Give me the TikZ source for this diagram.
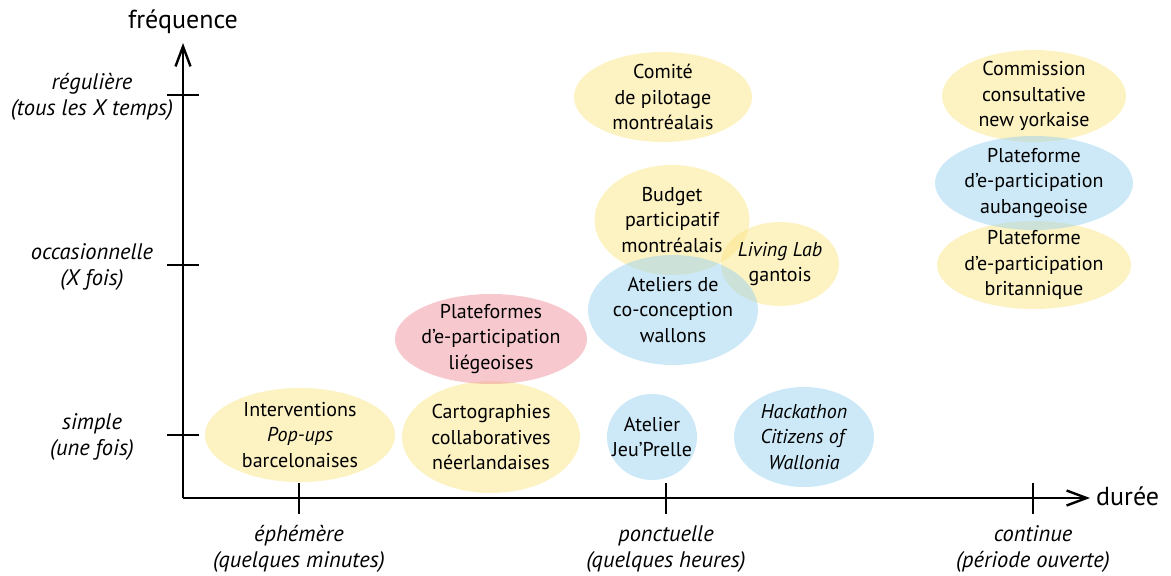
\documentclass[tikz,border=0pt]{standalone}
\usepackage{fontspec}
\setmainfont{PT Sans}
\usetikzlibrary{arrows.meta,shapes.geometric}
\definecolor{yel}{HTML}{FBE586}
\definecolor{blu}{HTML}{9BD3EF}
\definecolor{pnk}{HTML}{EF939F}
\begin{document}
\begin{tikzpicture}[x=1pt,y=-1pt,
  bubble/.style={ellipse,inner sep=0pt,fill opacity=0.5,draw=none},
  yb/.style={bubble,fill=yel},
  bb/.style={bubble,fill=blu},
  pb/.style={bubble,fill=pnk},
  txt/.style={align=center,font=\fontsize{20}{25.5}\selectfont,text=black,inner sep=0pt},
  big/.style={font=\fontsize{26}{30}\selectfont,inner sep=0pt},
  axlab/.style={align=center,font=\fontsize{22.5}{26.5}\selectfont\itshape,inner sep=0pt},
  axis/.style={line width=2.4pt,-{Straight Barb[length=20pt,width=15pt,line width=2.4pt]}},
  tick/.style={line width=1.1pt}]
\useasboundingbox (0,0) rectangle (1171,576);
% bubbles
\node[yb,minimum width=190pt,minimum height=94pt] (inter) at (300,435) {};
\node[yb,minimum width=178pt,minimum height=112pt] (carto) at (491,437) {};
\node[pb,minimum width=192pt,minimum height=90pt] (liege) at (491,339) {};
\node[bb,minimum width=90pt,minimum height=86pt] (jeu) at (652,437) {};
\node[bb,minimum width=140pt,minimum height=100pt] (hack) at (804,437) {};
\node[yb,minimum width=178pt,minimum height=90pt] (comite) at (663,97) {};
\node[yb,minimum width=155pt,minimum height=110pt] (budget) at (672,220) {};
\node[yb,minimum width=118pt,minimum height=84pt] (living) at (780,264) {};
\node[bb,minimum width=170pt,minimum height=110pt] (atel) at (673,310) {};
\node[yb,minimum width=184pt,minimum height=92pt] (comm) at (1034,96) {};
\node[yb,minimum width=194pt,minimum height=88pt] (brit) at (1034,265) {};
\node[bb,minimum width=198pt,minimum height=94pt] (auba) at (1034,183) {};
% texts
\node[txt] (tinter) at (inter.center) {Interventions\\\textit{Pop-ups}\\barcelonaises};
\node[txt] (tcarto) at (carto.center) {Cartographies\\collaboratives\\néerlandaises};
\node[txt] (tliege) at (liege.center) {Plateformes\\d’e-participation\\liégeoises};
\node[txt] (tjeu) at (jeu.center) {Atelier\\Jeu’Prelle};
\node[txt] (thack) at (hack.center) {\textit{Hackathon}\\\textit{Citizens of}\\\textit{Wallonia}};
\node[txt] (tcomite) at (comite.center) {Comité\\de pilotage\\montréalais};
\node[txt] (tbudget) at (budget.center) {Budget\\participatif\\montréalais};
\node[txt] (tliving) at (living.center) {\textit{Living Lab}\\gantois};
\node[txt] (tatel) at (atel.center) {Ateliers de\\co-conception\\wallons};
\node[txt] (tcomm) at (comm.center) {Commission\\consultative\\new yorkaise};
\node[txt] (tauba) at (auba.center) {Plateforme\\d’e-participation\\aubangeoise};
\node[txt] (tbrit) at (brit.center) {Plateforme\\d’e-participation\\britannique};
% axes
\coordinate (O) at (183,498);
\coordinate (Ytip) at (183,43);
\coordinate (Xtip) at (1090,498);
\draw[axis] (O) -- (Ytip);
\draw[axis] (O) -- (Xtip);
\node[big] (freq) at (183,22) {fréquence};
\node[big,anchor=west] (duree) at (1096,496) {durée};
% y ticks
\foreach \yy/\nm in {95/ya,265/yb,435/yc}{
  \coordinate (\nm l) at (167,\yy);
  \coordinate (\nm r) at (199,\yy);
  \draw[tick] (\nm l) -- (\nm r);
}
\foreach \xx/\nm in {299/xa,666/xb,1033/xc}{
  \coordinate (\nm t) at (\xx,483);
  \coordinate (\nm b) at (\xx,514);
  \draw[tick] (\nm t) -- (\nm b);
}
\node[axlab] (lreg) at (92,97) {régulière\\(tous les X temps)};
\node[axlab] (locc) at (92,267) {occasionnelle\\(X fois)};
\node[axlab] (lsim) at (92,437) {simple\\(une fois)};
\node[axlab] (leph) at (299,549) {éphémère\\(quelques minutes)};
\node[axlab] (lpon) at (666,549) {ponctuelle\\(quelques heures)};
\node[axlab] (lcon) at (1033,549) {continue\\(période ouverte)};
\end{tikzpicture}
\end{document}
